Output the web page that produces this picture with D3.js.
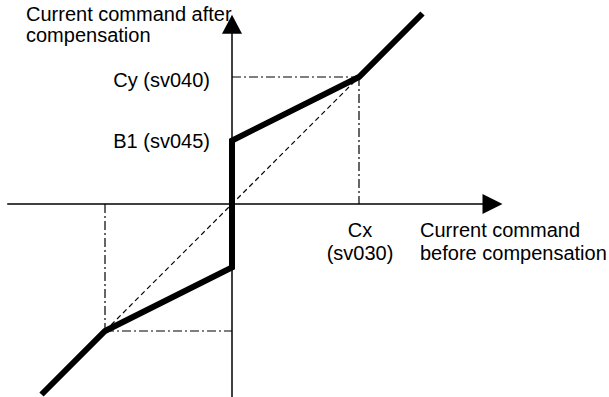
<!DOCTYPE html>
<html>
<head>
<meta charset="utf-8">
<script src="https://cdn.jsdelivr.net/npm/d3@7"></script>
<style>
  body { margin: 0; background: #fff; }
  text { font-family: "Liberation Sans", Arial, sans-serif; font-size: 20px; fill: #000; }
</style>
</head>
<body>
<svg width="609" height="397"></svg>
<script>
var svg = d3.select("svg");

// values in units of Cx (= Cy)
var cx = 1, cy = 1, b1 = 0.5;
var curveX = [-1.5, -cx, 0, 0, cx, 1.5];
var curveY = [-1.5, -cy, -b1, b1, cy, 1.5];
var diagX = [-cx, cx], diagY = [-cy, cy];
var axisX = [-1.77, 2.13], axisY = [-1.52, 1.49];

var x = d3.scaleLinear().domain([-1.5, 1.5]).range([41.5, 422.5]),
    y = d3.scaleLinear().domain([-1.5, 1.5]).range([394.5, 13.5]);

var line = d3.line().x(function(d) { return x(d[0]); }).y(function(d) { return y(d[1]); });

// axes
svg.append("line")
    .attr("x1", x(axisX[0])).attr("x2", x(axisX[1]) - 18)
    .attr("y1", y(0)).attr("y2", y(0))
    .attr("stroke", "#000").attr("stroke-width", 1.5);
svg.append("path")
    .attr("d", "M" + x(axisX[1]) + "," + y(0) + "l-20,-10v20z");

svg.append("line")
    .attr("x1", x(0)).attr("x2", x(0))
    .attr("y1", y(axisY[0])).attr("y2", y(axisY[1]) + 16)
    .attr("stroke", "#000").attr("stroke-width", 1.5);
svg.append("path")
    .attr("d", "M" + x(0) + "," + y(axisY[1]) + "l-10,19h20z");

// dash-dot guides
var guides = [
    [[0, cy], [cx, cy]], [[cx, cy], [cx, 0]],
    [[-cx, 0], [-cx, -cy]], [[-cx, -cy], [0, -cy]]
];
svg.selectAll(".guide").data(guides).enter().append("path")
    .attr("class", "guide")
    .attr("d", line)
    .attr("fill", "none").attr("stroke", "#000").attr("stroke-width", 1.2)
    .attr("stroke-dasharray", "9,3,2,3");

// dashed diagonal
svg.append("path")
    .attr("d", line(d3.zip(diagX, diagY)))
    .attr("fill", "none").attr("stroke", "#000").attr("stroke-width", 1.2)
    .attr("stroke-dasharray", "5,3.5");

// compensation curve
svg.append("path")
    .attr("d", line(d3.zip(curveX, curveY)))
    .attr("fill", "none").attr("stroke", "#000").attr("stroke-width", 6)
    .attr("stroke-linejoin", "miter");

// labels
svg.append("text").attr("x", 26).attr("y", 21).text("Current command after");
svg.append("text").attr("x", 26).attr("y", 42).text("compensation");

svg.append("text").attr("x", x(0) - 22).attr("y", 87)
    .attr("text-anchor", "end").text("Cy (sv040)");
svg.append("text").attr("x", x(0) - 22).attr("y", 148)
    .attr("text-anchor", "end").text("B1 (sv045)");

svg.append("text").attr("x", x(cx) + 1).attr("y", 237)
    .attr("text-anchor", "middle").text("Cx");
svg.append("text").attr("x", x(cx) + 1).attr("y", 260)
    .attr("text-anchor", "middle").text("(sv030)");

svg.append("text").attr("x", 420).attr("y", 237).text("Current command");
svg.append("text").attr("x", 420).attr("y", 260).text("before compensation");
</script>
</body>
</html>
